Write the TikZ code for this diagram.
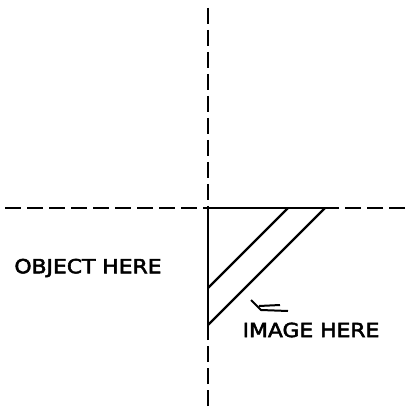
\documentclass[tikz,border=0pt]{standalone}
\usepackage{fontspec}
\setmainfont{DejaVu Sans}[FakeBold=2.5]
\begin{document}
\begin{tikzpicture}[x=1pt,y=-1pt,
  axis/.style={line width=2pt,dash pattern=on 16pt off 6pt},
  solidline/.style={line width=2.2pt},
  lbl/.style={font=\fontsize{19.5}{19.5}\selectfont,inner sep=0pt,anchor=center}]
\useasboundingbox (0,0) rectangle (409,411);
% dashed axes
\coordinate (vt) at (208,8);
\coordinate (vb) at (208,406);
\coordinate (hl) at (5,208);
\coordinate (hr) at (405,208);
\coordinate (o) at (208,208);
\draw[axis] (vt) -- (o);
\draw[axis] (vb) -- (208,325);
\draw[axis] (hl) -- (o);
\draw[axis] (hr) -- (338,208);
% solid prism
\coordinate (a1) at (288,208);
\coordinate (a2) at (208,288);
\coordinate (b1) at (325,208);
\coordinate (b2) at (208,325);
\coordinate (hs) at (338,208);
\draw[solidline] (b2) -- (o) -- (hs);
\draw[solidline] (a1) -- (a2);
\draw[solidline] (b1) -- (b2);
% squiggle
\coordinate (s1) at (251,300);
\coordinate (s2) at (261,310);
\coordinate (s3) at (288,311);
\coordinate (s4) at (259,306);
\coordinate (s5) at (280,305);
\draw[line width=2pt,line join=round] (s1) -- (s2) -- (s3);
\draw[line width=2pt] (s4) -- (s5);
% labels
\node[lbl] (obj) at (88,268) {\scalebox{1.12}[1]{OBJECT HERE}};
\node[lbl] (img) at (311,330) {\scalebox{1.12}[1]{IMAGE HERE}};
\end{tikzpicture}
\end{document}
